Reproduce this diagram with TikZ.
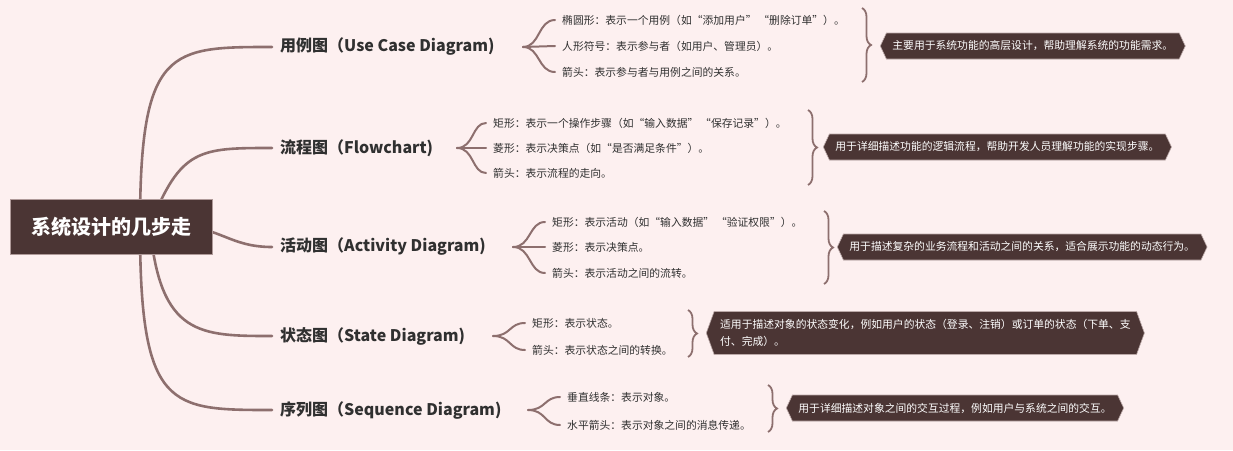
\documentclass[tikz,border=0pt]{standalone}
\usepackage{fontspec}
\setmainfont{Noto Sans CJK SC}
\usetikzlibrary{shapes.symbols,decorations.pathreplacing}
\definecolor{bgc}{HTML}{FDF0F0}
\definecolor{dk}{HTML}{4B3534}
\definecolor{ln}{HTML}{8D6F6E}
\definecolor{tx}{HTML}{303030}
\pgfdeclarelayer{bottom}
\pgfdeclarelayer{background}
\pgfsetlayers{bottom,background,main}
\tikzset{
 rootbox/.style={fill=dk,draw=ln!70,line width=0.6pt,text=white,font=\fontsize{20}{24}\selectfont\bfseries,minimum width=202pt,minimum height=55pt,inner sep=0pt},
 mainlabel/.style={anchor=west,text=tx,font=\fontsize{16}{19}\selectfont\bfseries,inner xsep=8pt,inner ysep=2pt},
 item/.style={anchor=west,text=tx,font=\fontsize{10.8}{13}\selectfont,inner xsep=7pt,inner ysep=2pt},
 summary/.style={shape=signal,signal to=west and east,signal pointer angle=130,fill=dk,draw=ln!60,line width=0.6pt,text=white,font=\fontsize{10.8}{13}\selectfont,minimum height=26pt,inner xsep=6pt,inner ysep=2pt,anchor=west},
 branch/.style={draw=ln,line width=2.6pt,line cap=round},
 fork/.style={draw=ln,line width=2pt,line cap=round},
 bracket/.style={draw=ln,line width=1.8pt,decorate,decoration={brace,amplitude=9pt}},
}
\begin{document}
\begin{tikzpicture}[x=1pt,y=-1pt]
\begin{pgfonlayer}{bottom}
\fill[bgc] (0,0) rectangle (1233,450);
\end{pgfonlayer}
\useasboundingbox (0,0) rectangle (1233,450);

% root
\node[rootbox] (root) at (111,226.5) {系统设计的几步走};

% main labels
\node[mainlabel] (l1) at (272,47) {用例图（Use Case Diagram)};
\node[mainlabel] (l2) at (272,148) {流程图（Flowchart)};
\node[mainlabel] (l3) at (272,247) {活动图（Activity Diagram)};
\node[mainlabel] (l4) at (272,336) {状态图（State Diagram)};
\node[mainlabel] (l5) at (272,410) {序列图（Sequence Diagram)};

\begin{pgfonlayer}{background}
\draw[branch] ([xshift=29pt]root.center) .. controls (140,47) and (170,47) .. (l1.west);
\draw[branch] ([xshift=39pt]root.center) .. controls (180,148) and (200,148) .. (l2.west);
\draw[branch] ([xshift=69pt]root.center) .. controls (220,227) and (230,247) .. (l3.west);
\draw[branch] ([xshift=39pt]root.center) .. controls (160,336) and (200,336) .. (l4.west);
\draw[branch] ([xshift=29pt]root.center) .. controls (140,410) and (170,410) .. (l5.west);
\end{pgfonlayer}

% group 1
\node[item] (i11) at (555,20) {椭圆形：表示一个用例（如“添加用户”\,“删除订单”）。};
\node[item] (i12) at (555,46) {人形符号：表示参与者（如用户、管理员）。};
\node[item] (i13) at (555,72) {箭头：表示参与者与用例之间的关系。};
\coordinate (f1) at (523,47);
\draw[fork] (f1) .. controls (540,47) and (538,20) .. (i11.west);
\draw[fork] (f1) -- (i12.west);
\draw[fork] (f1) .. controls (540,47) and (538,72) .. (i13.west);
\coordinate (b1t) at (862,8);
\coordinate (b1b) at (862,82);
\draw[bracket] (b1t) -- (b1b);
\node[summary] (s1) at (880,46) {主要用于系统功能的高层设计，帮助理解系统的功能需求。};

% group 2
\node[item] (i21) at (486,123) {矩形：表示一个操作步骤（如“输入数据”\,“保存记录”）。};
\node[item] (i22) at (486,148) {菱形：表示决策点（如“是否满足条件”）。};
\node[item] (i23) at (486,173) {箭头：表示流程的走向。};
\coordinate (f2) at (457,148);
\draw[fork] (f2) .. controls (474,148) and (472,123) .. (i21.west);
\draw[fork] (f2) -- (i22.west);
\draw[fork] (f2) .. controls (474,148) and (472,173) .. (i23.west);
\coordinate (b2t) at (808,110);
\coordinate (b2b) at (808,185);
\draw[bracket] (b2t) -- (b2b);
\node[summary] (s2) at (823,147) {用于详细描述功能的逻辑流程，帮助开发人员理解功能的实现步骤。};

% group 3
\node[item] (i31) at (545,222) {矩形：表示活动（如“输入数据”\,“验证权限”）。};
\node[item] (i32) at (545,247) {菱形：表示决策点。};
\node[item] (i33) at (545,273) {箭头：表示活动之间的流转。};
\coordinate (f3) at (513,247);
\draw[fork] (f3) .. controls (531,247) and (529,222) .. (i31.west);
\draw[fork] (f3) -- (i32.west);
\draw[fork] (f3) .. controls (531,247) and (529,273) .. (i33.west);
\coordinate (b3t) at (824,211);
\coordinate (b3b) at (824,284);
\draw[bracket] (b3t) -- (b3b);
\node[summary] (s3) at (837,247) {用于描述复杂的业务流程和活动之间的关系，适合展示功能的动态行为。};

% group 4
\node[item] (i41) at (525,323) {矩形：表示状态。};
\node[item] (i42) at (525,350) {箭头：表示状态之间的转换。};
\coordinate (f4) at (493,336);
\draw[fork] (f4) .. controls (511,336) and (509,323) .. (i41.west);
\draw[fork] (f4) .. controls (511,336) and (509,350) .. (i42.west);
\coordinate (b4t) at (688,310);
\coordinate (b4b) at (688,357);
\draw[bracket] (b4t) -- (b4b);
\node[summary,minimum height=43pt,signal pointer angle=140,align=left,font=\fontsize{10.8}{17}\selectfont] (s4) at (706,333) {适用于描述对象的状态变化，例如用户的状态（登录、注销）或订单的状态（下单、支\\付、完成）。};

% group 5
\node[item] (i51) at (560,397) {垂直线条：表示对象。};
\node[item] (i52) at (560,425) {水平箭头：表示对象之间的消息传递。};
\coordinate (f5) at (528,410);
\draw[fork] (f5) .. controls (546,410) and (544,397) .. (i51.west);
\draw[fork] (f5) .. controls (546,410) and (544,425) .. (i52.west);
\coordinate (b5t) at (768,385);
\coordinate (b5b) at (768,432);
\draw[bracket] (b5t) -- (b5b);
\node[summary] (s5) at (786,408) {用于详细描述对象之间的交互过程，例如用户与系统之间的交互。};
\end{tikzpicture}
\end{document}
